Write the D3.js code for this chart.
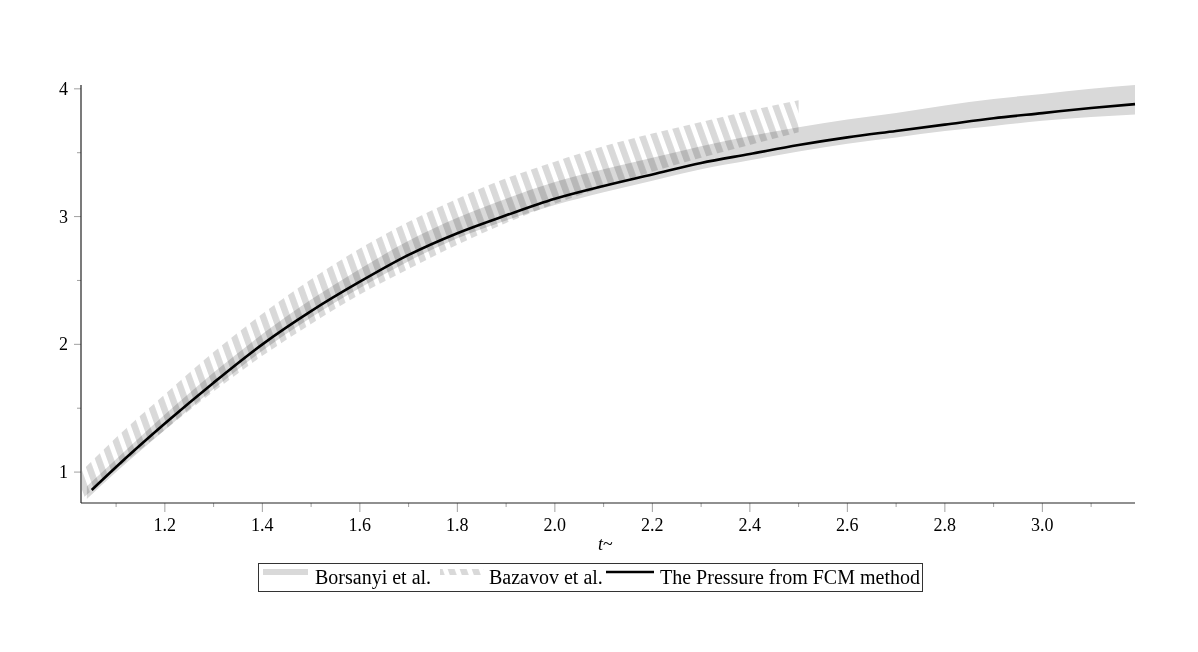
<!DOCTYPE html>
<html>
<head>
<meta charset="utf-8">
<script src="https://cdn.jsdelivr.net/npm/d3@7"></script>
<style>
  body { margin: 0; background: #fff; }
  svg text { font-family: "Liberation Serif", "Times New Roman", serif; fill: #000; }
</style>
</head>
<body>
<svg id="chart" width="1198" height="652"></svg>
<script>
// FCM pressure curve
const fcmT = [1.05, 1.1, 1.2, 1.3, 1.4, 1.5, 1.6, 1.7, 1.8, 1.9, 2.0, 2.1, 2.2, 2.3, 2.4, 2.5, 2.6, 2.7, 2.8, 2.9, 3.0, 3.1, 3.19];
const fcmP = [0.86, 1.04, 1.38, 1.70, 2.00, 2.26, 2.49, 2.70, 2.87, 3.01, 3.14, 3.24, 3.33, 3.42, 3.49, 3.56, 3.62, 3.67, 3.72, 3.77, 3.81, 3.85, 3.88];

// Borsanyi et al. band
const borT = [1.04, 1.1, 1.2, 1.3, 1.4, 1.5, 1.6, 1.7, 1.8, 1.9, 2.0, 2.1, 2.2, 2.3, 2.4, 2.5, 2.6, 2.7, 2.8, 2.9, 3.0, 3.1, 3.19];
const borLo = [0.79, 1.00, 1.33, 1.65, 1.95, 2.21, 2.44, 2.65, 2.83, 2.97, 3.09, 3.19, 3.28, 3.37, 3.44, 3.51, 3.57, 3.62, 3.67, 3.71, 3.75, 3.78, 3.80];
const borHi = [0.89, 1.10, 1.45, 1.78, 2.08, 2.35, 2.59, 2.81, 2.99, 3.14, 3.27, 3.37, 3.46, 3.55, 3.63, 3.70, 3.76, 3.81, 3.87, 3.92, 3.96, 4.00, 4.03];

// Bazavov et al. band
const bazT = [1.03, 1.1, 1.2, 1.3, 1.4, 1.5, 1.6, 1.7, 1.8, 1.9, 2.0, 2.1, 2.2, 2.3, 2.4, 2.5];
const bazLo = [0.79, 1.02, 1.33, 1.63, 1.91, 2.16, 2.39, 2.59, 2.78, 2.95, 3.10, 3.23, 3.35, 3.46, 3.56, 3.66];
const bazHi = [1.01, 1.27, 1.61, 1.94, 2.24, 2.51, 2.75, 2.96, 3.14, 3.30, 3.43, 3.55, 3.65, 3.74, 3.83, 3.91];

const xTicks = [1.2, 1.4, 1.6, 1.8, 2.0, 2.2, 2.4, 2.6, 2.8, 3.0];
const xMinor = [1.1, 1.3, 1.5, 1.7, 1.9, 2.1, 2.3, 2.5, 2.7, 2.9, 3.1];
const yTicks = [1, 2, 3, 4];
const yMinor = [1.5, 2.5, 3.5];
const legendLabels = ["Borsanyi et al.", "Bazavov et al.", "The Pressure from FCM method"];

const svg = d3.select('#chart');
const x = d3.scaleLinear().domain([1.028, 3.19]).range([81, 1135]);
const y = d3.scaleLinear().domain([0.758, 4.03]).range([503, 85]);

const defs = svg.append('defs');
const pat = defs.append('pattern')
  .attr('id', 'hatch')
  .attr('patternUnits', 'userSpaceOnUse')
  .attr('width', 11.3).attr('height', 20)
  .attr('patternTransform', 'rotate(-20)');
pat.append('rect').attr('x', 0).attr('y', 0).attr('width', 6.5).attr('height', 20).attr('fill', '#d9d9d9');

const area = d3.area().curve(d3.curveMonotoneX)
  .x(d => x(d[0])).y0(d => y(d[1])).y1(d => y(d[2]));

// Borsanyi band
svg.append('path')
  .attr('d', area(borT.map((t, i) => [t, borLo[i], borHi[i]])))
  .attr('fill', '#d9d9d9');

// Bazavov band (hatched)
svg.append('path')
  .attr('d', area(bazT.map((t, i) => [t, bazLo[i], bazHi[i]])))
  .attr('fill', 'url(#hatch)')
  .style('mix-blend-mode', 'multiply');

// FCM line
svg.append('path')
  .attr('d', d3.line().curve(d3.curveMonotoneX).x(d => x(d[0])).y(d => y(d[1]))(fcmT.map((t, i) => [t, fcmP[i]])))
  .attr('fill', 'none').attr('stroke', '#000').attr('stroke-width', 2.6);

// axes
const xAxis = svg.append('g');
xAxis.selectAll('line.minor').data(xMinor).join('line').attr('class', 'minor')
  .attr('x1', d => x(d)).attr('x2', d => x(d)).attr('y1', 503).attr('y2', 507)
  .attr('stroke', '#a0a0a0');
xAxis.selectAll('line.major').data(xTicks).join('line').attr('class', 'major')
  .attr('x1', d => x(d)).attr('x2', d => x(d)).attr('y1', 503).attr('y2', 512)
  .attr('stroke', '#a0a0a0');
xAxis.selectAll('text').data(xTicks).join('text')
  .attr('x', d => x(d)).attr('y', 531).attr('text-anchor', 'middle')
  .attr('font-size', 18).text(d => d.toFixed(1));
xAxis.append('line').attr('x1', 81).attr('x2', 1135).attr('y1', 503).attr('y2', 503)
  .attr('stroke', '#222').attr('stroke-width', 1.2);

const yAxis = svg.append('g');
yAxis.selectAll('line.minor').data(yMinor).join('line').attr('class', 'minor')
  .attr('x1', 77).attr('x2', 81).attr('y1', d => y(d)).attr('y2', d => y(d))
  .attr('stroke', '#a0a0a0');
yAxis.selectAll('line.major').data(yTicks).join('line').attr('class', 'major')
  .attr('x1', 74).attr('x2', 81).attr('y1', d => y(d)).attr('y2', d => y(d))
  .attr('stroke', '#a0a0a0');
yAxis.selectAll('text').data(yTicks).join('text')
  .attr('x', 68).attr('y', d => y(d) + 6).attr('text-anchor', 'end')
  .attr('font-size', 18).text(d => d);
yAxis.append('line').attr('x1', 81).attr('x2', 81).attr('y1', 85).attr('y2', 503)
  .attr('stroke', '#222').attr('stroke-width', 1.2);

// axis title
const xt = svg.append('text').attr('x', 598).attr('y', 550).attr('font-size', 18);
xt.append('tspan').attr('font-style', 'italic').text('t');
xt.append('tspan').text('~');

// legend
const leg = svg.append('g');
leg.append('rect').attr('x', 258.5).attr('y', 563.5).attr('width', 664).attr('height', 28)
  .attr('fill', '#fff').attr('stroke', '#333').attr('stroke-width', 1);
leg.append('rect').attr('x', 263).attr('y', 569).attr('width', 45).attr('height', 6).attr('fill', '#d9d9d9');
leg.append('text').attr('x', 315).attr('y', 584).attr('font-size', 20).text(legendLabels[0]);
leg.append('rect').attr('x', 440).attr('y', 569).attr('width', 44).attr('height', 6).attr('fill', 'url(#hatch)');
leg.append('text').attr('x', 489).attr('y', 584).attr('font-size', 20).text(legendLabels[1]);
leg.append('line').attr('x1', 606).attr('x2', 654).attr('y1', 572).attr('y2', 572)
  .attr('stroke', '#000').attr('stroke-width', 2.6);
leg.append('text').attr('x', 660).attr('y', 584).attr('font-size', 20).text(legendLabels[2]);
</script>
</body>
</html>
